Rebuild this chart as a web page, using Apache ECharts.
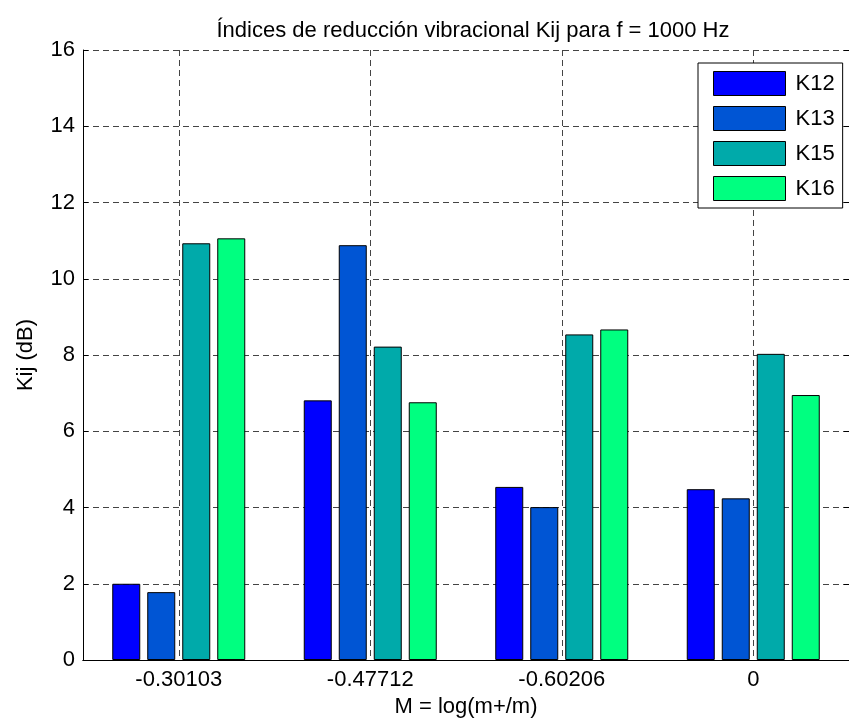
<!DOCTYPE html>
<html>
<head>
<meta charset="UTF-8">
<title>Kij</title>
<script src="https://cdn.jsdelivr.net/npm/echarts@6/dist/echarts.min.js"></script>
</head>
<body style="margin:0">
<div id="main" style="width: 849px; height: 725px;"></div>
<script type="text/javascript">
// categorias (M = log(m+/m))
var categories = ['-0.30103', '-0.47712', '-0.60206', '0'];
var seriesNames = ['K12', 'K13', 'K15', 'K16'];
var k12 = [2.0, 6.81, 4.54, 4.48];
var k13 = [1.78, 10.88, 4.01, 4.24];
var k15 = [10.93, 8.22, 8.54, 8.03];
var k16 = [11.06, 6.76, 8.67, 6.95];
var colors = ['#0000ff', '#0055d4', '#00aaaa', '#00ff80'];

var chart = echarts.init(document.getElementById('main'));
var font = 'Liberation Sans, Arial, sans-serif';
var fs = 22;

var values = [k12, k13, k15, k16];
var series = [];
for (var i = 0; i < 4; i++) {
  series.push({
    name: seriesNames[i],
    type: 'bar',
    data: values[i],
    barWidth: 28,
    barGap: '25%',
    itemStyle: {color: colors[i], borderColor: '#000', borderWidth: 1},
    emphasis: {disabled: true}
  });
}

var option = {
  animation: false,
  backgroundColor: '#fff',
  title: {
    text: 'Índices de reducción vibracional Kij para f = 1000 Hz',
    left: 468, top: 15, textAlign: 'center',
    textStyle: {fontFamily: font, fontWeight: 'normal', fontSize: fs, color: '#000'}
  },
  legend: {
    left: 698, top: 63,
    orient: 'vertical',
    itemWidth: 72, itemHeight: 24, itemGap: 10,
    padding: [8, 8, 7, 15],
    backgroundColor: '#fff',
    borderColor: '#000', borderWidth: 1, borderRadius: 0,
    icon: 'rect',
    itemStyle: {borderColor: '#000', borderWidth: 1},
    textStyle: {fontFamily: font, fontSize: fs, color: '#000', padding: [0, 0, 0, 5]},
    data: seriesNames
  },
  grid: {left: 83, right: 0, top: 50, bottom: 65},
  xAxis: [{
    type: 'category',
    data: categories,
    name: 'M = log(m+/m)', nameLocation: 'middle', nameGap: 36,
    nameTextStyle: {fontFamily: font, fontSize: fs, color: '#000'},
    axisLine: {lineStyle: {color: '#000'}},
    axisTick: {inside: true, alignWithLabel: true, length: 5, lineStyle: {color: '#000'}},
    axisLabel: {fontFamily: font, fontSize: fs, color: '#000', margin: 9},
    splitLine: {show: true, alignWithLabel: true, lineStyle: {color: '#444', type: [6, 4], width: 1}}
  }, {
    type: 'category',
    data: categories,
    position: 'top',
    axisLine: {lineStyle: {color: '#000'}},
    axisTick: {inside: true, alignWithLabel: true, length: 5, lineStyle: {color: '#000'}},
    axisLabel: {show: false},
    splitLine: {show: false}
  }],
  yAxis: [{
    type: 'value',
    min: 0, max: 16, interval: 2,
    name: 'Kij (dB)', nameLocation: 'middle', nameGap: 46,
    nameTextStyle: {fontFamily: font, fontSize: fs, color: '#000'},
    axisLine: {show: true, lineStyle: {color: '#000'}},
    axisTick: {show: true, inside: true, length: 5, lineStyle: {color: '#000'}},
    axisLabel: {fontFamily: font, fontSize: fs, color: '#000', margin: 8},
    splitLine: {show: true, lineStyle: {color: '#444', type: [6, 4], width: 1}}
  }, {
    type: 'value',
    min: 0, max: 16, interval: 2,
    position: 'right',
    axisLine: {show: true, lineStyle: {color: '#000'}},
    axisTick: {show: true, inside: true, length: 5, lineStyle: {color: '#000'}},
    axisLabel: {show: false},
    splitLine: {show: false}
  }],
  series: series
};

chart.setOption(option);
</script>
</body>
</html>
